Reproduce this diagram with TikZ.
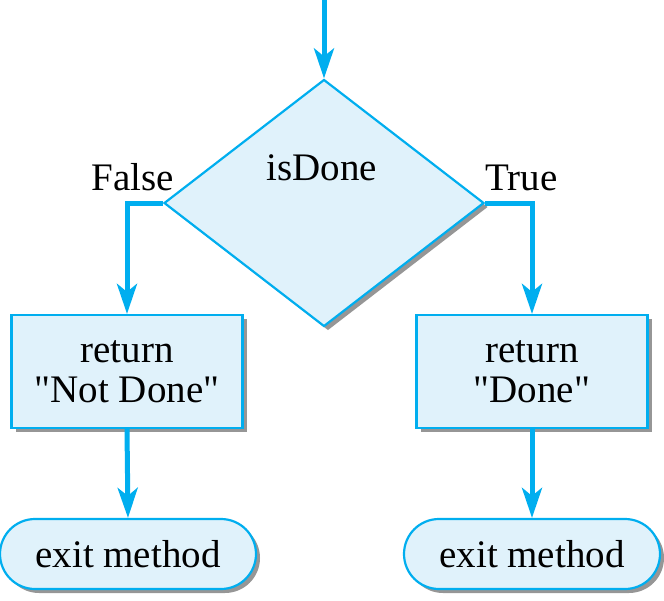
\documentclass[tikz,border=0pt]{standalone}
\usepackage{fontspec}
\setmainfont{Liberation Serif}[Ligatures=TeXOff]
\usetikzlibrary{shapes.geometric,shadows,arrows.meta}
\definecolor{flowblue}{RGB}{0,174,239}
\definecolor{flowfill}{RGB}{224,242,251}
\definecolor{shadowgray}{RGB}{150,150,150}
\begin{document}
\begin{tikzpicture}[x=1pt,y=-1pt,
  font=\fontsize{39}{40}\selectfont,
  shade/.style={drop shadow={shadow xshift=4pt,shadow yshift=-4pt,fill=shadowgray,opacity=1}},
  boxstyle/.style={draw=flowblue,line width=2.2pt,fill=flowfill,shade},
  procbox/.style={boxstyle,rectangle,minimum width=231pt,minimum height=113pt,inner sep=0pt,align=center},
  termbox/.style={boxstyle,rectangle,rounded corners=35pt,minimum width=256pt,minimum height=70pt,inner sep=0pt},
  decbox/.style={boxstyle,diamond,minimum width=320pt,minimum height=247pt,inner sep=0pt},
  flow/.style={draw=flowblue,line width=5pt,-{Stealth[length=30pt,width=20pt,inset=8pt]}}]
\useasboundingbox (0,0) rectangle (664,600);
\coordinate (start) at (324,0);
\node[decbox] (dec) at (324,203) {};
\node[anchor=base] (dtext) at (322,180) {isDone};
\node[procbox] (lbox) at (127,371.5) {return\\ "Not Done"};
\node[procbox] (rbox) at (532,371.5) {return\\ "Done"};
\node[termbox] (lterm) at (128,554) {exit method};
\node[termbox] (rterm) at (532,554) {exit method};
\node[anchor=base east,inner sep=0pt] (flab) at (174,190) {False};
\node[anchor=base west,inner sep=0pt] (tlab) at (485,190) {True};
\draw[flow] (start) -- (dec.north);
\draw[flow] (dec.west) -| (lbox.north);
\draw[flow] (dec.east) -| (rbox.north);
\draw[flow] (lbox.south) -- (lterm.north);
\draw[flow] (rbox.south) -- (rterm.north);
\end{tikzpicture}
\end{document}
